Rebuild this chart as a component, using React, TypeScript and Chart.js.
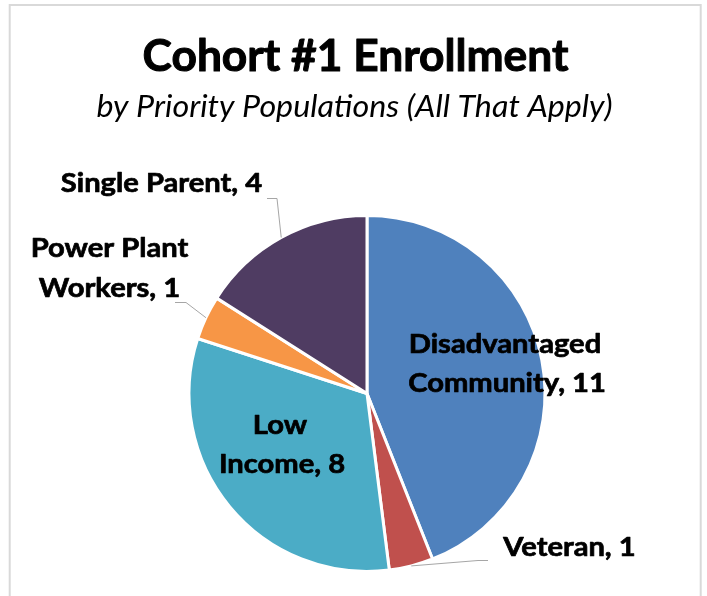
import React, { useEffect, useRef } from "react";
import { Chart, registerables } from "chart.js";

Chart.register(...registerables);

// ---- data ----
const categories = [
  "Disadvantaged Community",
  "Veteran",
  "Low Income",
  "Power Plant Workers",
  "Single Parent",
];
const enrollment = [11, 1, 8, 1, 4];
const sliceColors = ["#4F81BD", "#C0504D", "#4BACC6", "#F79646", "#4F3C62"];
const titleText = "Cohort #1 Enrollment";
const subtitleText = "by Priority Populations (All That Apply)";

// ---- label layout (relative to pie centre) ----
type LabelCfg = {
  split: number; // words on first line (0 = single line)
  dx: number[]; // per-line centre x offset
  dy: number; // first baseline y offset
  leader?: { elbow: [number, number]; end: [number, number] };
};
const labelLayout: LabelCfg[] = [
  { split: 1, dx: [138, 140], dy: -41 },
  { split: 0, dx: [202.5], dy: 162, leader: { elbow: [111, 167], end: [121, 167] } },
  { split: 1, dx: [-87, -85], dy: 40 },
  { split: 2, dx: [-257.5, -257.5], dy: -136.5, leader: { elbow: [-181, -91], end: [-192, -91] } },
  { split: 0, dx: [-205.5], dy: -201.5, leader: { elbow: [-90, -195], end: [-100, -195] } },
];
const LINE_GAP = 39.5;
const FONT = "Lato, 'Noto Sans', sans-serif";

function drawText(
  ctx: CanvasRenderingContext2D,
  text: string,
  x: number,
  y: number,
  sx: number,
  stroke: number
) {
  ctx.save();
  ctx.translate(x, y);
  ctx.scale(sx, 1);
  ctx.textAlign = "center";
  ctx.textBaseline = "alphabetic";
  ctx.fillStyle = "#000000";
  ctx.fillText(text, 0, 0);
  if (stroke > 0) {
    ctx.strokeStyle = "#000000";
    ctx.lineWidth = stroke;
    ctx.lineJoin = "round";
    ctx.strokeText(text, 0, 0);
  }
  ctx.restore();
}

const decorPlugin = {
  id: "decor",
  beforeDraw(chart: any) {
    const ctx = chart.ctx as CanvasRenderingContext2D;
    ctx.save();
    ctx.fillStyle = "#ffffff";
    ctx.fillRect(0, 0, chart.width, chart.height);
    ctx.strokeStyle = "#D9D9D9";
    ctx.lineWidth = 2;
    ctx.strokeRect(9.7, 5, 691, 800);
    ctx.font = `bold 43px ${FONT}`;
    drawText(ctx, titleText, 355.5, 71, 1.03, 1);
    ctx.font = `italic 30px ${FONT}`;
    drawText(ctx, subtitleText, 354.5, 117, 1.075, 0);
    ctx.restore();
  },
  afterDatasetsDraw(chart: any) {
    const ctx = chart.ctx as CanvasRenderingContext2D;
    const meta = chart.getDatasetMeta(0);
    ctx.save();
    meta.data.forEach((arc: any, i: number) => {
      const { x: cx, y: cy, startAngle, endAngle, outerRadius } = arc.getProps(
        ["x", "y", "startAngle", "endAngle", "outerRadius"],
        true
      );
      const cfg = labelLayout[i];
      const words = `${categories[i]}, ${enrollment[i]}`.split(" ");
      const lines =
        cfg.split > 0
          ? [words.slice(0, cfg.split).join(" "), words.slice(cfg.split).join(" ")]
          : [words.join(" ")];
      if (cfg.leader) {
        const mid = (startAngle + endAngle) / 2;
        const ex = cx + Math.cos(mid) * outerRadius;
        const ey = cy + Math.sin(mid) * outerRadius;
        ctx.strokeStyle = "#A6A6A6";
        ctx.lineWidth = 1;
        ctx.beginPath();
        ctx.moveTo(ex, ey);
        ctx.lineTo(cx + cfg.leader.elbow[0], cy + cfg.leader.elbow[1]);
        ctx.lineTo(cx + cfg.leader.end[0], cy + cfg.leader.end[1]);
        ctx.stroke();
      }
      ctx.font = `bold 26.5px ${FONT}`;
      lines.forEach((ln, j) => {
        drawText(ctx, ln, cx + cfg.dx[j], cy + cfg.dy + j * LINE_GAP, 1.1, 0.7);
      });
    });
    ctx.restore();
  },
};

export default function App() {
  const ref = useRef<HTMLCanvasElement>(null);
  useEffect(() => {
    if (!ref.current) return;
    const chart = new Chart(ref.current, {
      type: "pie",
      data: {
        labels: categories,
        datasets: [
          {
            data: enrollment,
            backgroundColor: sliceColors,
            borderColor: "#ffffff",
            borderWidth: 3,
          },
        ],
      },
      options: {
        animation: false,
        responsive: false,
        maintainAspectRatio: false,
        layout: { padding: { top: 214, bottom: 23, left: 100, right: 73 } },
        plugins: {
          legend: { display: false },
          tooltip: { enabled: false },
          title: { display: false },
        },
      },
      plugins: [decorPlugin],
    });
    if ((document as any).fonts) {
      (document as any).fonts
        .load(`bold 26px Lato`)
        .then(() => (document as any).fonts.load(`italic 29px Lato`))
        .then(() => chart.draw())
        .catch(() => {});
    }
    return () => chart.destroy();
  }, []);
  return (
    <div style={{ position: "absolute", left: 0, top: 0, width: 707, height: 596 }}>
      <canvas ref={ref} width={707} height={596} style={{ width: 707, height: 596, display: "block" }} />
    </div>
  );
}
